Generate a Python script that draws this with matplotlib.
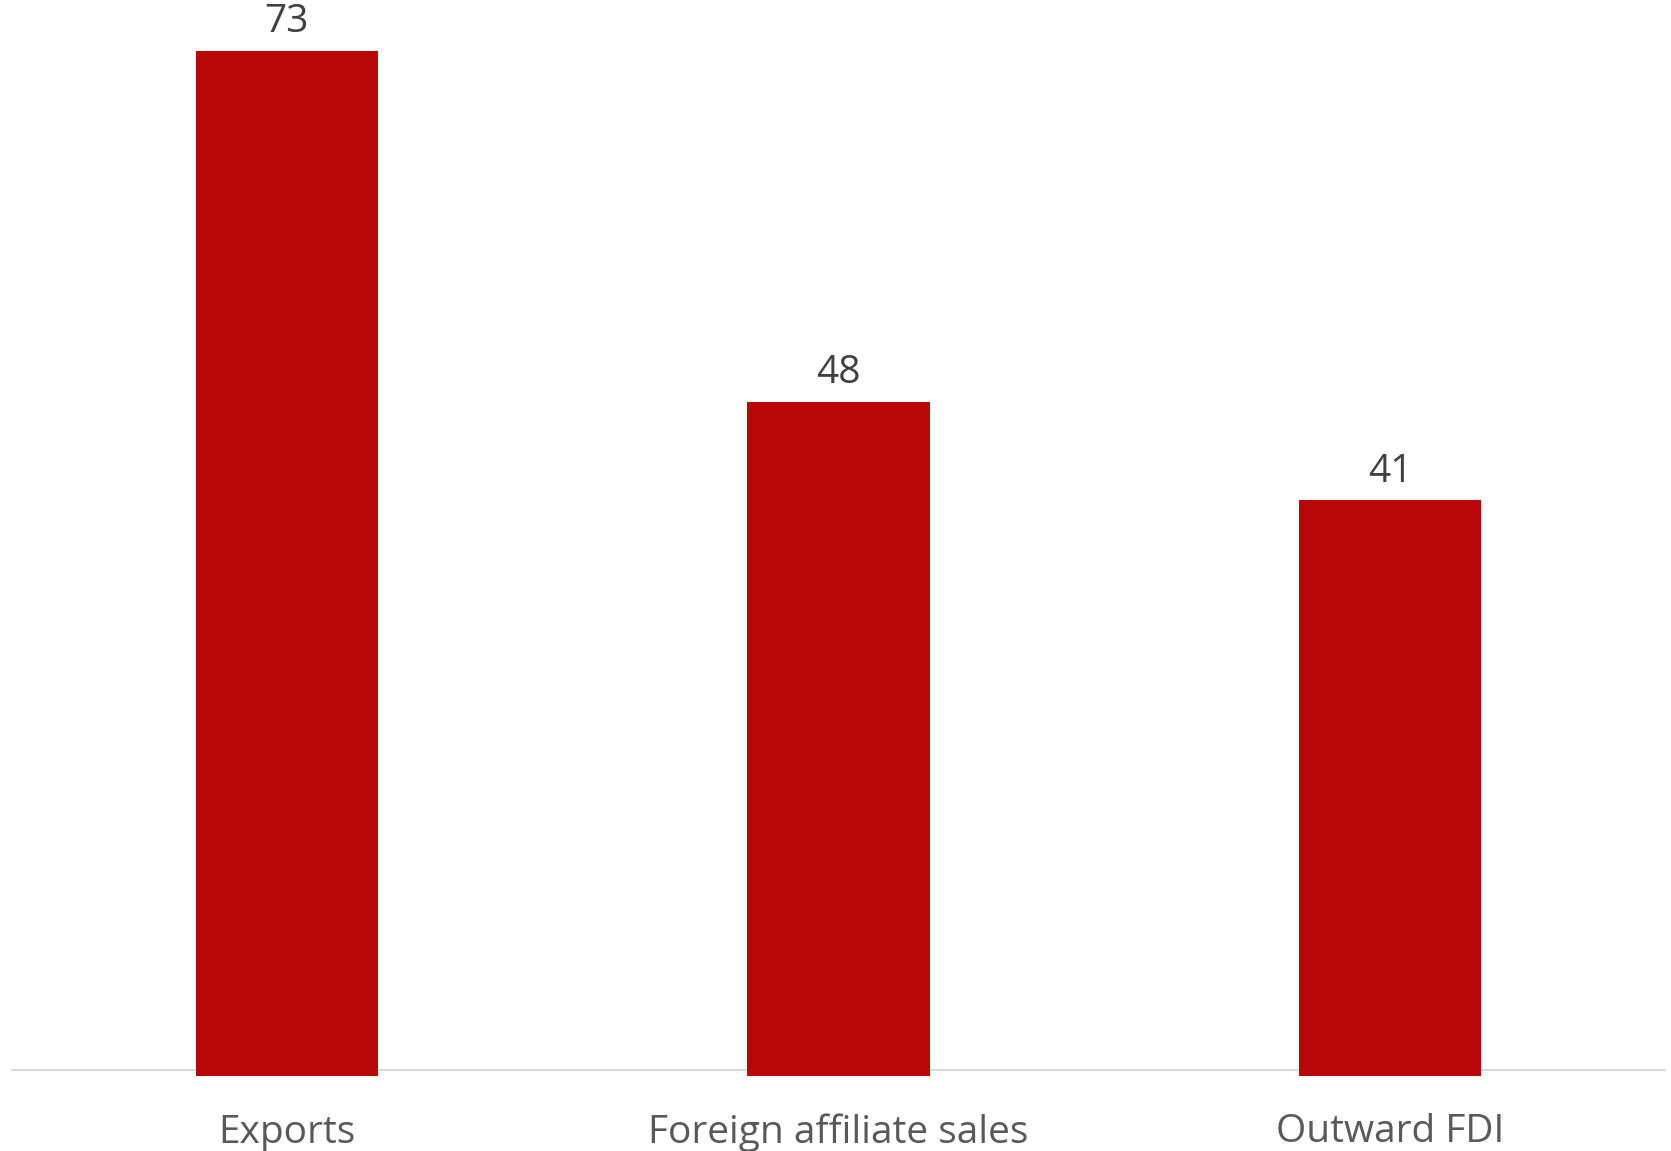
import matplotlib.pyplot as plt

categories = ["Exports", "Foreign affiliate sales", "Outward FDI"]
values = [73, 48, 41]

plt.rcParams['font.family'] = ['Open Sans', 'DejaVu Sans']

fig = plt.figure(figsize=(16.71, 11.51), dpi=100)
ax = fig.add_axes([11 / 1671, 75 / 1151, 1655 / 1671, 1067 / 1151])

x = range(len(categories))
bars = ax.bar(x, values, width=0.33, color="#b90708", zorder=2)

# value labels above each bar
for rect, v in zip(bars, values):
    ax.annotate(str(v), (rect.get_x() + rect.get_width() / 2, v),
                xytext=(0, 7), textcoords="offset points",
                ha="center", va="bottom", fontsize=28, color="#404040")

# thin grey baseline, sitting a little above the bar feet
ax.axhline(0.42, color="#d9d9d9", lw=1.5, zorder=1)

ax.set_xlim(-0.5, 2.5)
ax.set_ylim(0, 1067 / 14.04)
ax.set_xticks(list(x))
ax.set_xticklabels(categories, fontsize=28, color="#595959")
ax.tick_params(axis="x", length=0, pad=27)
ax.set_yticks([])
for s in ax.spines.values():
    s.set_visible(False)

fig.savefig("out.png", dpi=100)
